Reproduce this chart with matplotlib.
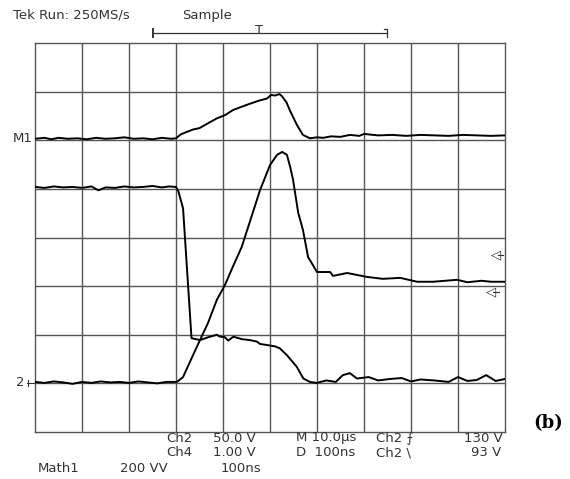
import numpy as np
import matplotlib.pyplot as plt
from matplotlib.lines import Line2D

# traces in graticule divisions (x: 0..10, y: 0..8 from bottom)
m1_x = [0, 0.2, 0.35, 0.5, 0.7, 0.9, 1.1, 1.3, 1.5, 1.7, 1.9, 2.1, 2.3, 2.5, 2.7,
        2.9, 3.0, 3.1, 3.2, 3.36, 3.5, 3.7, 3.87, 4.05, 4.21, 4.4, 4.57, 4.75,
        4.94, 5.02, 5.11, 5.2, 5.26, 5.35, 5.43, 5.57, 5.70, 5.85, 6.0, 6.13, 6.3,
        6.5, 6.7, 6.9, 7.0, 7.3, 7.6, 7.9, 8.2, 8.5, 8.8, 9.1, 9.4, 9.7, 10]
m1_y = [6.03, 6.05, 6.02, 6.05, 6.03, 6.04, 6.02, 6.05, 6.03, 6.04, 6.06, 6.03, 6.04,
        6.02, 6.05, 6.03, 6.04, 6.12, 6.16, 6.22, 6.25, 6.36, 6.45, 6.52, 6.62, 6.69,
        6.75, 6.81, 6.86, 6.93, 6.92, 6.95, 6.90, 6.78, 6.60, 6.32, 6.11, 6.04, 6.06,
        6.05, 6.08, 6.07, 6.11, 6.09, 6.13, 6.10, 6.11, 6.09, 6.11, 6.10, 6.09, 6.11,
        6.10, 6.09, 6.10]

ch2_x = [0, 0.2, 0.4, 0.6, 0.8, 1.0, 1.2, 1.35, 1.5, 1.7, 1.9, 2.1, 2.3, 2.5, 2.7,
         2.85, 3.0, 3.05, 3.15, 3.33, 3.51, 3.69, 3.87, 3.94, 4.04, 4.11, 4.22, 4.40,
         4.57, 4.72, 4.79, 4.93, 5.11, 5.21, 5.36, 5.57, 5.71, 5.85, 5.99, 6.2, 6.4,
         6.55, 6.7, 6.85, 7.1, 7.3, 7.55, 7.8, 8.0, 8.2, 8.5, 8.8, 9.0, 9.2, 9.4, 9.6,
         9.8, 10]
ch2_y = [5.04, 5.02, 5.05, 5.03, 5.04, 5.02, 5.05, 4.97, 5.03, 5.02, 5.05, 5.03, 5.04,
         5.06, 5.03, 5.05, 5.04, 4.95, 4.60, 1.93, 1.89, 1.95, 2.00, 1.96, 1.95, 1.88,
         1.96, 1.91, 1.89, 1.86, 1.81, 1.79, 1.76, 1.72, 1.58, 1.34, 1.10, 1.03, 1.01,
         1.06, 1.03, 1.17, 1.21, 1.10, 1.13, 1.06, 1.09, 1.11, 1.04, 1.08, 1.06, 1.03,
         1.13, 1.05, 1.07, 1.17, 1.05, 1.09]

ch4_x = [0, 0.2, 0.4, 0.6, 0.8, 1.0, 1.2, 1.4, 1.6, 1.8, 2.0, 2.2, 2.4, 2.6, 2.8,
         3.02, 3.15, 3.3, 3.51, 3.68, 3.87, 4.04, 4.21, 4.40, 4.57, 4.79, 5.0, 5.15,
         5.26, 5.36, 5.43, 5.49, 5.60, 5.70, 5.81, 6.0, 6.28, 6.34, 6.64, 7.06, 7.4,
         7.77, 8.13, 8.47, 8.98, 9.2, 9.5, 9.7, 10]
ch4_y = [1.03, 1.01, 1.04, 1.02, 0.99, 1.03, 1.01, 1.04, 1.02, 1.03, 1.01, 1.04, 1.02,
         1.00, 1.03, 1.03, 1.13, 1.45, 1.89, 2.24, 2.72, 3.02, 3.40, 3.81, 4.32, 4.98,
         5.49, 5.70, 5.76, 5.70, 5.45, 5.19, 4.51, 4.16, 3.60, 3.29, 3.29, 3.21, 3.27,
         3.19, 3.15, 3.17, 3.09, 3.09, 3.13, 3.08, 3.11, 3.09, 3.09]

W, H = 570, 479
fig = plt.figure(figsize=(W / 100, H / 100), dpi=100)

def fx(px):
    return px / W

def fy(py):
    return 1 - py / H

ax = fig.add_axes([fx(35), fy(432), 470 / W, 389 / H])
ax.set_xlim(0, 10)
ax.set_ylim(0, 8)
ax.set_xticks([])
ax.set_yticks([])
for s in ax.spines.values():
    s.set_color('#555555')
    s.set_linewidth(1.0)
for i in range(1, 10):
    ax.axvline(i, color='#555555', lw=1.0, zorder=1)
for j in range(1, 8):
    ax.axhline(j, color='#555555', lw=1.0, zorder=1)

for xs, ys in [(m1_x, m1_y), (ch2_x, ch2_y), (ch4_x, ch4_y)]:
    ax.plot(xs, ys, color='black', lw=1.4, zorder=3)

txt = dict(color='#333333', fontsize=9.5, family='DejaVu Sans')

# header
fig.text(fx(13), fy(15), 'Tek Run: 250MS/s', va='center', **txt)
fig.text(fx(182), fy(15), 'Sample', va='center', **txt)
fig.add_artist(Line2D([fx(153), fx(387)], [fy(33), fy(33)], color='#333333', lw=0.9))
fig.add_artist(Line2D([fx(153), fx(153)], [fy(29), fy(37)], color='#333333', lw=1.4))
fig.add_artist(Line2D([fx(384), fx(387), fx(387)], [fy(29), fy(29), fy(37)], color='#333333', lw=0.9))
fig.text(fx(259), fy(31), 'T', ha='center', va='center', **txt)

# channel markers
fig.text(fx(33), fy(139), 'M1', ha='right', va='center', **txt)
fig.text(fx(20), fy(383), '2', ha='center', va='center', **txt)
fig.add_artist(Line2D([fx(27), fx(35)], [fy(383), fy(383)], color='#333333', lw=0.8))
fig.add_artist(Line2D([fx(28), fx(28)], [fy(380), fy(386)], color='#333333', lw=0.8))
fig.text(fx(496), fy(255), '◁', ha='center', va='center', **txt)
fig.add_artist(Line2D([fx(498), fx(503)], [fy(255), fy(255)], color='#333333', lw=0.8))
fig.text(fx(491), fy(292), '◁', ha='center', va='center', **txt)
fig.add_artist(Line2D([fx(493), fx(499)], [fy(292), fy(292)], color='#333333', lw=0.8))

# readouts
rows = [438, 453, 468]
fig.text(fx(166), fy(rows[0]), 'Ch2', va='center', **txt)
fig.text(fx(213), fy(rows[0]), '50.0 V', va='center', **txt)
fig.text(fx(296), fy(rows[0]), 'M 10.0µs', va='center', **txt)
fig.text(fx(376), fy(rows[0]), 'Ch2 ⨍', va='center', **txt)
fig.text(fx(503), fy(rows[0]), '130 V', ha='right', va='center', **txt)
fig.text(fx(166), fy(rows[1]), 'Ch4', va='center', **txt)
fig.text(fx(213), fy(rows[1]), '1.00 V', va='center', **txt)
fig.text(fx(296), fy(rows[1]), 'D  100ns', va='center', **txt)
fig.text(fx(376), fy(rows[1]), 'Ch2 \\', va='center', **txt)
fig.text(fx(501), fy(rows[1]), '93 V', ha='right', va='center', **txt)
fig.text(fx(38), fy(rows[2]), 'Math1', va='center', **txt)
fig.text(fx(120), fy(rows[2]), '200 VV', va='center', **txt)
fig.text(fx(221), fy(rows[2]), '100ns', va='center', **txt)

fig.text(fx(548), fy(423), '(b)', ha='center', va='center', fontsize=13,
         fontweight='bold', family='DejaVu Serif', color='black')

fig.savefig('out.png', dpi=100)
